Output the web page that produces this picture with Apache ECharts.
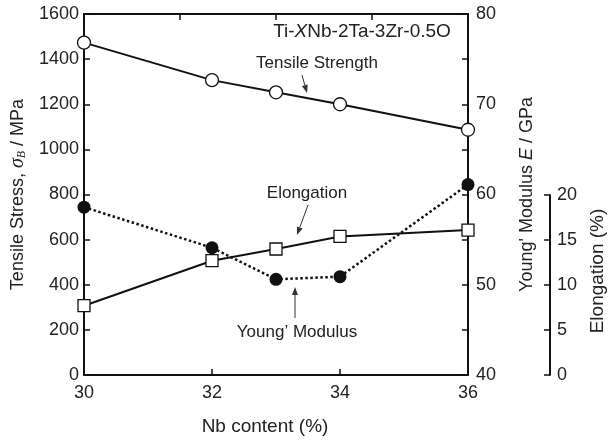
<!DOCTYPE html>
<html>
<head>
<meta charset="utf-8">
<script src="https://cdn.jsdelivr.net/npm/echarts@6/dist/echarts.min.js"></script>
<style>
	html, body { margin: 0; padding: 0; background: #fff; }
	#chart { width: 608px; height: 441px; }
</style>
</head>
<body>
<div id="chart"></div>
<script>
const nbContent = [ 30, 32, 33, 34, 36 ];
const tensileStrength = [ 1473, 1307, 1253, 1200, 1087 ];
const youngModulus = [ 58.6, 54.1, 50.6, 50.9, 61.1 ];
const elongation = [ 7.7, 12.7, 14.0, 15.4, 16.1 ];

const FONT = "Liberation Sans, Arial, Helvetica, sans-serif";
const INK = "#111";
const TEXT = "#222";

const pairs = ( ys ) => nbContent.map( ( x, i ) => [ x, ys[ i ] ] );

function arrow( x1, y1, x2, y2 ) {
	const a = Math.atan2( y2 - y1, x2 - x1 );
	const len = 8, half = 3;
	const bx = x2 - len * Math.cos( a ), by = y2 - len * Math.sin( a );
	const px = -Math.sin( a ) * half, py = Math.cos( a ) * half;
	return [
		{ type: "line", shape: { x1, y1, x2: bx, y2: by }, style: { stroke: "#333", lineWidth: 1 } },
		{ type: "polygon", shape: { points: [ [ x2, y2 ], [ bx + px, by + py ], [ bx - px, by - py ] ] }, style: { fill: "#333" } }
	];
}

const axisBase = {
	axisLine: { show: true, lineStyle: { color: INK, width: 2 } },
	axisTick: { show: true, inside: true, length: 6, lineStyle: { color: INK, width: 1.5 } },
	splitLine: { show: false },
	axisLabel: { color: TEXT, fontSize: 18, fontFamily: FONT, formatter: v => String( v ) },
	nameTextStyle: { color: TEXT, fontSize: 18, fontFamily: FONT }
};

const chart = echarts.init( document.getElementById( "chart" ) );

chart.setOption( {
	animation: false,
	backgroundColor: "#fff",
	grid: [
		{ left: 84, right: 140, top: 14, bottom: 66, outerBoundsMode: "none" },
		{ left: 84, right: 140, top: 195, bottom: 66, outerBoundsMode: "none" }
	],
	xAxis: [
		{
			...axisBase,
			type: "value", gridIndex: 0, position: "bottom",
			min: 30, max: 36, interval: 2,
			axisLabel: { ...axisBase.axisLabel, margin: 9 },
			name: "Nb content (%)", nameLocation: "middle", nameGap: 42,
			nameTextStyle: { ...axisBase.nameTextStyle, fontSize: 19, padding: [ 0, 22, 0, 0 ] }
		},
		{
			...axisBase,
			type: "value", gridIndex: 0, position: "top",
			min: 30, max: 36, interval: 1.5,
			axisLabel: { show: false }
		},
		{ type: "value", gridIndex: 1, min: 30, max: 36, show: false }
	],
	yAxis: [
		{
			...axisBase,
			type: "value", gridIndex: 0, position: "left",
			min: 0, max: 1600, interval: 200,
			axisLabel: { ...axisBase.axisLabel, margin: 5 },
			name: "Tensile Stress, {s|σ}{b|B} / MPa", nameLocation: "middle", nameGap: 55,
			nameTextStyle: {
				...axisBase.nameTextStyle,
				rich: {
					s: { fontFamily: "Liberation Serif, DejaVu Serif, serif", fontStyle: "italic", fontSize: 20, color: TEXT },
					b: { fontFamily: "Liberation Serif, DejaVu Serif, serif", fontStyle: "italic", fontSize: 12, color: TEXT, verticalAlign: "bottom", lineHeight: 15 }
				}
			}
		},
		{
			...axisBase,
			type: "value", gridIndex: 0, position: "right",
			min: 40, max: 80, interval: 5,
			axisLabel: { ...axisBase.axisLabel, margin: 8, formatter: v => v % 10 === 0 ? String( v ) : "" },
			name: "Young' Modulus {e|E} / GPa", nameLocation: "middle", nameGap: 50,
			nameTextStyle: {
				...axisBase.nameTextStyle,
				rich: { e: { fontFamily: FONT, fontStyle: "italic", fontSize: 18, color: TEXT } }
			}
		},
		{
			...axisBase,
			type: "value", gridIndex: 1, position: "right", offset: 82,
			min: 0, max: 20, interval: 5,
			axisLabel: { ...axisBase.axisLabel, margin: 7 },
			name: "Elongation (%)", nameLocation: "middle", nameGap: 36,
			nameTextStyle: { ...axisBase.nameTextStyle, fontSize: 19, padding: [ 0, 0, 0, 28 ] }
		}
	],
	series: [
		{
			name: "Tensile Strength", type: "line",
			xAxisIndex: 0, yAxisIndex: 0,
			data: pairs( tensileStrength ),
			symbol: "circle", symbolSize: 13,
			itemStyle: { color: "#fff", borderColor: INK, borderWidth: 1.3 },
			lineStyle: { color: INK, width: 2 },
			z: 3
		},
		{
			name: "Young' Modulus", type: "line",
			xAxisIndex: 0, yAxisIndex: 1,
			data: pairs( youngModulus ),
			symbol: "circle", symbolSize: 13,
			itemStyle: { color: INK, borderColor: INK, borderWidth: 0 },
			lineStyle: { color: INK, width: 2.5, type: [ 2.5, 2.5 ] },
			z: 2
		},
		{
			name: "Elongation", type: "line",
			xAxisIndex: 2, yAxisIndex: 2,
			data: pairs( elongation ),
			symbol: "rect", symbolSize: 12,
			itemStyle: { color: "#fff", borderColor: INK, borderWidth: 1.3 },
			lineStyle: { color: INK, width: 2 },
			z: 3
		}
	],
	graphic: [
		{
			type: "text", x: 362, y: 32,
			style: {
				text: "Ti-{i|X}Nb-2Ta-3Zr-0.5O", align: "center", verticalAlign: "middle",
				fontFamily: FONT, fontSize: 19, fill: TEXT,
				rich: { i: { fontStyle: "italic", fontFamily: FONT, fontSize: 19, fill: TEXT } }
			}
		},
		{ type: "text", x: 317, y: 63, style: { text: "Tensile Strength", align: "center", verticalAlign: "middle", fontFamily: FONT, fontSize: 17, fill: TEXT } },
		{ type: "text", x: 307, y: 193, style: { text: "Elongation", align: "center", verticalAlign: "middle", fontFamily: FONT, fontSize: 17, fill: TEXT } },
		{ type: "text", x: 297, y: 332, style: { text: "Young’ Modulus", align: "center", verticalAlign: "middle", fontFamily: FONT, fontSize: 17, fill: TEXT } },
		...arrow( 302, 75, 307, 93 ),
		...arrow( 308, 205, 297, 235 ),
		...arrow( 295, 318, 295, 287 )
	]
} );

window.addEventListener( "resize", () => chart.resize() );
</script>
</body>
</html>
